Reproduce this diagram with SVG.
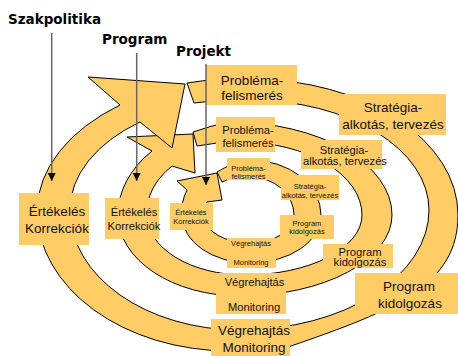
<svg xmlns="http://www.w3.org/2000/svg" width="458" height="356" viewBox="0 0 458 356">
<defs>
<style>
.band{fill:#FFCC66;stroke:#000;stroke-width:1;stroke-linejoin:miter}
.box{fill:#FFCC66}
.lbl{font-family:"Liberation Sans",Arial,sans-serif;text-anchor:middle;fill:#111}
.t1{font-size:13.5px}
.t2{font-size:11.2px}
.t3{font-size:7.5px}
.title{font-family:"DejaVu Sans",Verdana,sans-serif;font-weight:bold;font-size:13.5px;fill:#000}
.ptr{stroke:#666;stroke-width:1.5;fill:none;marker-end:url(#ah)}
</style>
<marker id="ah" markerUnits="userSpaceOnUse" markerWidth="8" markerHeight="8" refX="8" refY="4" orient="auto">
<path d="M0,0 L8,4 L0,8 z" fill="#000"/>
</marker>
</defs>
<rect width="458" height="356" fill="#fff"/>
<g id="spirals">
<path id="ring-inner" class="band" d="M217,172 A75,53 0 0 1 250,160 A71,55 0 0 1 321,215 A71,48 0 0 1 250,263 A68,48 0 0 1 182,215 A68,55 0 0 1 187,190 L177,181 L217,173 L222,200 L207,202 A46,27 0 0 0 204,217 A46,27 0 0 0 250,243 A44,28 0 0 0 294,215 A44,38 0 0 0 250,177 A44,38 0 0 0 222,182 Z"/>
<path id="ring-middle" class="band" d="M193,132 A162,93 0 0 1 230,122 A162,93 0 0 1 392,215 A152,81 0 0 1 240,296 A122,81 0 0 1 118,215 A132,95 0 0 1 152,151 L127,137 L193,134 L195,173 L172,166 A103,72 0 0 0 147,215 A98,60 0 0 0 245,275 A117,60 0 0 0 362,215 A122,73 0 0 0 240,142 A122,73 0 0 0 197,146 Z"/>
<path id="ring-outer" class="band" d="M187,83 A208,136 0 0 1 250,79 A208,136 0 0 1 458,215 C458,285 395,310 291,346 C266,354.7 250,351 230,351 A193,141 0 0 1 37,210 A213,135 0 0 1 120,105 L88,77 L185,84 L172,148 L140,122 A180,111 0 0 0 70,210 A170,120 0 0 0 240,330 A189,120 0 0 0 429,210 A179,110 0 0 0 250,100 A179,110 0 0 0 194,103 Z"/>
</g>
<g id="outer-problema"><rect class="box" x="206" y="65" width="91" height="40"/><text class="lbl t1" x="252" y="85">Probléma-</text><text class="lbl t1" x="252" y="100">felismerés</text></g>
<g id="outer-strategia"><rect class="box" x="339" y="94" width="107" height="41"/><text class="lbl t1" x="393" y="112">Stratégia-</text><text class="lbl t1" x="393" y="129">alkotás, tervezés</text></g>
<g id="outer-program"><rect class="box" x="355" y="273" width="103" height="41"/><text class="lbl t1" x="409" y="291">Program</text><text class="lbl t1" x="410" y="308">kidolgozás</text></g>
<g id="outer-vegrehajtas"><rect class="box" x="211" y="319" width="79" height="37"/><text class="lbl t1" x="254" y="335">Végrehajtás</text><text class="lbl t1" x="254" y="352">Monitoring</text></g>
<g id="outer-ertekeles"><rect class="box" x="19" y="193" width="70" height="52"/><text class="lbl t1" x="57" y="216">Értékelés</text><text class="lbl t1" x="57" y="233">Korrekciók</text></g>

<g id="middle-problema"><rect class="box" x="216" y="117" width="59" height="35"/><text class="lbl t2" x="248" y="134">Probléma-</text><text class="lbl t2" x="248" y="146.5">felismerés</text></g>
<g id="middle-strategia"><rect class="box" x="301" y="140" width="81" height="29"/><text class="lbl t2" x="344" y="154">Stratégia-</text><text class="lbl t2" x="345" y="165">alkotás, tervezés</text></g>
<g id="middle-program"><rect class="box" x="323" y="244" width="70" height="24"/><text class="lbl t2" x="360" y="255.5">Program</text><text class="lbl t2" x="360" y="266">kidolgozás</text></g>
<g id="middle-vegrehajtas"><rect class="box" x="216" y="273" width="70" height="41"/><text class="lbl t2" x="254.5" y="285.5">Végrehajtás</text><text class="lbl t2" x="254" y="311">Monitoring</text></g>
<g id="middle-ertekeles"><rect class="box" x="105" y="198" width="54" height="41"/><text class="lbl t2" x="134" y="216">Értékelés</text><text class="lbl t2" x="134" y="229.5">Korrekciók</text></g>

<g id="inner-problema"><rect class="box" x="227" y="158" width="43" height="22"/><text class="lbl t3" x="248.5" y="171">Probléma-</text><text class="lbl t3" x="248.5" y="179">felismerés</text></g>
<g id="inner-strategia"><rect class="box" x="281" y="175" width="58" height="25"/><text class="lbl t3" x="310" y="189">Stratégia-</text><text class="lbl t3" x="310" y="198">alkotás, tervezés</text></g>
<g id="inner-program"><rect class="box" x="280" y="215" width="54" height="24"/><text class="lbl t3" x="307" y="226">Program</text><text class="lbl t3" x="307" y="234">kidolgozás</text></g>
<g id="inner-vegrehajtas"><rect class="box" x="227" y="238" width="49" height="30"/><text class="lbl t3" x="251" y="246">Végrehajtás</text><text class="lbl t3" x="251" y="265">Monitoring</text></g>
<g id="inner-ertekeles"><rect class="box" x="170" y="203" width="43" height="27"/><text class="lbl t3" x="191" y="215">Értékelés</text><text class="lbl t3" x="191" y="224">Korrekciók</text></g>

<g id="title-szakpolitika"><text class="title" x="8" y="23.5">Szakpolitika</text></g>
<g id="title-program"><text class="title" x="102" y="44">Program</text></g>
<g id="title-projekt"><text class="title" x="176" y="55.5">Projekt</text></g>

<g id="connectors">
<line class="ptr" x1="51.7" y1="33" x2="51.7" y2="181"/>
<line class="ptr" x1="136.7" y1="53" x2="136.7" y2="181"/>
<line class="ptr" x1="206" y1="64" x2="206" y2="185"/>
</g>
</svg>
